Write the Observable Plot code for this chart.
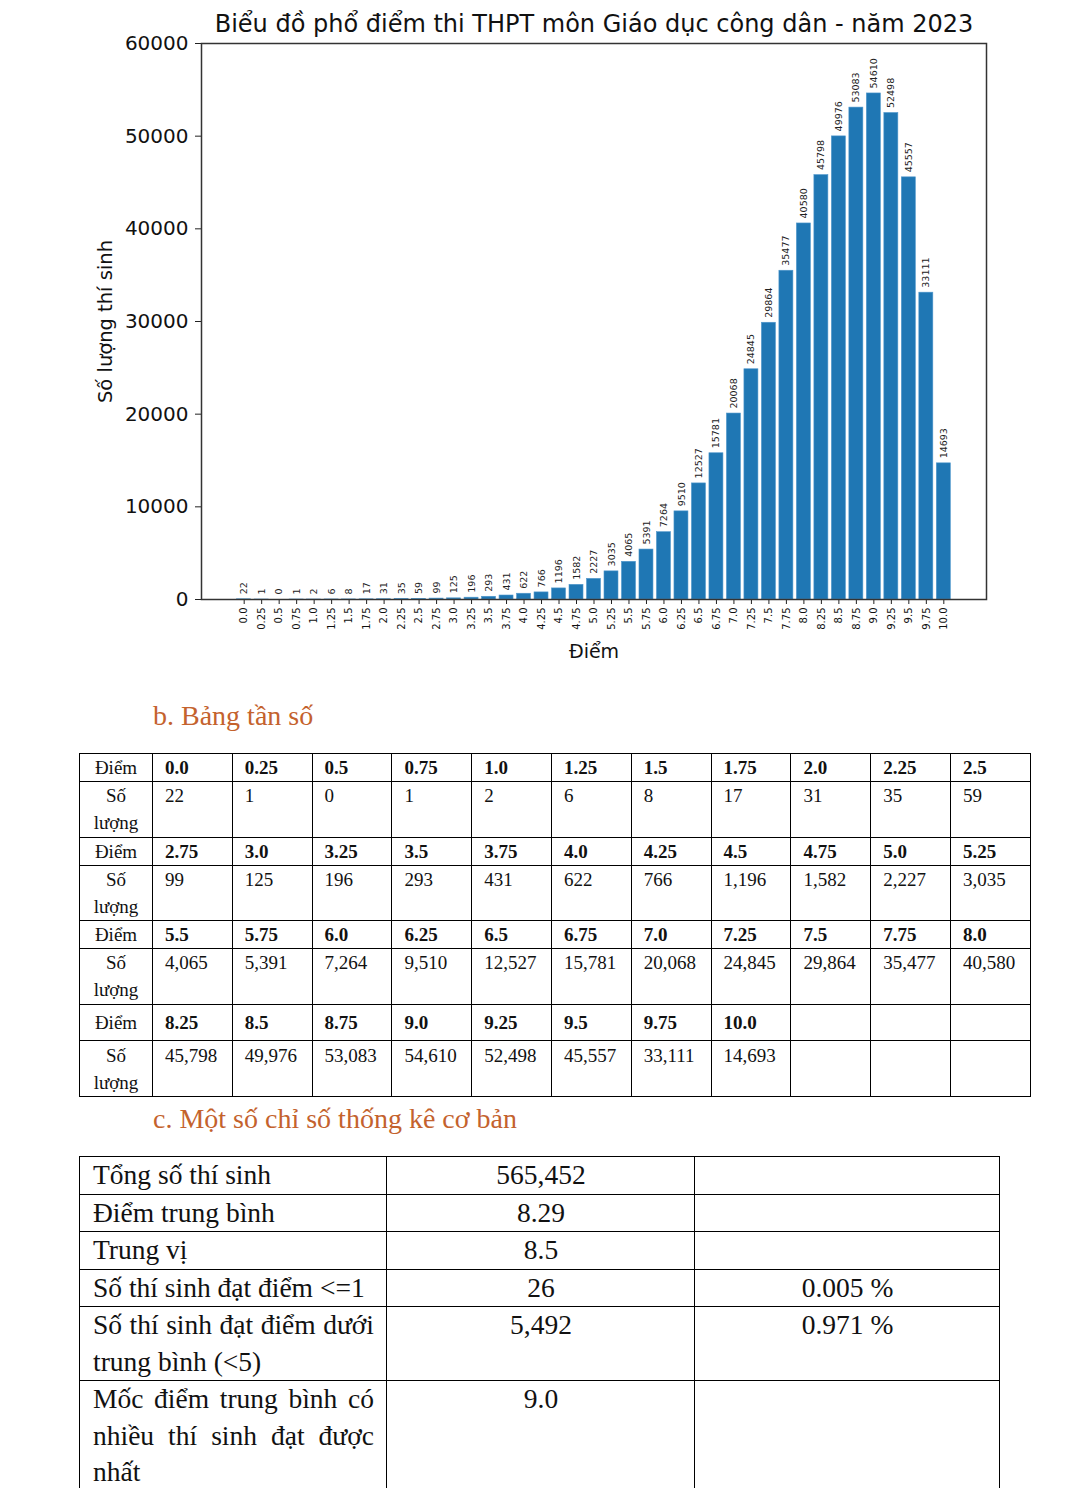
<!DOCTYPE html>
<html>
<head>
<meta charset="utf-8">
<script src="https://cdn.jsdelivr.net/npm/d3@7"></script>
<script src="https://cdn.jsdelivr.net/npm/@observablehq/plot@0.6"></script>
<style>
  html, body { margin: 0; padding: 0; background: #fff; width: 1080px; height: 1488px; overflow: hidden; }
  #chart { position: absolute; left: 0; top: 0; }
  .sec { position: absolute; font-family: "Liberation Serif", "Times New Roman", serif; color: #c4622d; font-size: 28px; }
  table { border-collapse: collapse; font-family: "Liberation Serif", "Times New Roman", serif; color: #111; position: absolute; table-layout: fixed; }
  td { border: 1px solid #000; vertical-align: top; padding: 0; }
  #t1 { left: 79px; top: 753px; width: 951px; font-size: 19px; line-height: 27px; }
  #t1 td { padding: 0 2px 0 12px; white-space: nowrap; }
  #t1 td.h { text-align: center; padding: 0 4px; white-space: normal; }
  #t1 tr.sc td:not(.h) { font-weight: bold; }
  #t2 { left: 79px; top: 1156px; width: 920px; font-size: 27.5px; line-height: 36.5px; }
  #t2 td { padding: 0 12px 0 13px; text-align: center; }
  #t2 td.l { text-align: justify; }
</style>
</head>
<body>
<div id="chart"></div>
<div class="sec" style="left:153px; top:700px;">b. Bảng tần số</div>
<table id="t1"></table>
<div class="sec" style="left:153px; top:1103px;">c. Một số chỉ số thống kê cơ bản</div>
<table id="t2"></table>
<script>
const scores = ["0.0","0.25","0.5","0.75","1.0","1.25","1.5","1.75","2.0","2.25","2.5","2.75","3.0","3.25","3.5","3.75","4.0","4.25","4.5","4.75","5.0","5.25","5.5","5.75","6.0","6.25","6.5","6.75","7.0","7.25","7.5","7.75","8.0","8.25","8.5","8.75","9.0","9.25","9.5","9.75","10.0"];
const counts = [22,1,0,1,2,6,8,17,31,35,59,99,125,196,293,431,622,766,1196,1582,2227,3035,4065,5391,7264,9510,12527,15781,20068,24845,29864,35477,40580,45798,49976,53083,54610,52498,45557,33111,14693];
const yTicks = [0,10000,20000,30000,40000,50000,60000];
const chartTitle = "Biểu đồ phổ điểm thi THPT môn Giáo dục công dân - năm 2023";
const xLabel = "Điểm";
const yLabel = "Số lượng thí sinh";

const statLabels = ["Tổng số thí sinh","Điểm trung bình","Trung vị","Số thí sinh đạt điểm <=1","Số thí sinh đạt điểm dưới trung bình (<5)","Mốc điểm trung bình có nhiều thí sinh đạt được nhất"];
const statValues = ["565,452","8.29","8.5","26","5,492","9.0"];
const statPercents = ["","","","0.005 %","0.971 %",""];

const data = scores.map((s, i) => ({score: s, count: counts[i]}));
const font = "DejaVu Sans, sans-serif";

const chart = Plot.plot({
  width: 1080,
  height: 670,
  marginLeft: 201,
  marginRight: 94,
  marginTop: 43,
  marginBottom: 71,
  style: {fontFamily: font, color: "#111", background: "white"},
  x: {type: "band", domain: scores, paddingInner: 0.2, paddingOuter: 2.04, align: 0.5, round: false},
  y: {domain: [0, 60000]},
  marks: [
    Plot.barY(data, {x: "score", y: "count", fill: "#1f77b4", stroke: "#4f97cc", strokeWidth: 0.6}),
    Plot.text(data, {x: "score", y: "count", text: d => String(d.count), rotate: -90, textAnchor: "start", dy: -5, fontSize: 9.5, fill: "#222"}),
    Plot.axisY({ticks: yTicks, tickFormat: d => String(d), fontSize: 20, tickSize: 6, tickPadding: 7, label: null, stroke: "#222"}),
    Plot.axisX({tickRotate: -90, fontSize: 10, tickSize: 5, tickPadding: 3, label: null, stroke: "#222"}),
    Plot.frame({stroke: "#333", strokeWidth: 1.5}),
    Plot.text([chartTitle], {frameAnchor: "top", lineAnchor: "bottom", dy: -12, fontSize: 24, fill: "#111"}),
    Plot.text([xLabel], {frameAnchor: "bottom", lineAnchor: "middle", dy: 52, fontSize: 19, fill: "#111"}),
    Plot.text([yLabel], {frameAnchor: "left", textAnchor: "middle", lineAnchor: "middle", dx: -96, rotate: -90, fontSize: 19.5, fill: "#111"})
  ]
});
document.getElementById("chart").appendChild(chart);

// Frequency table
const t1 = document.getElementById("t1");
const perRow = 11;
const rowHeights = [[26,56],[26,55],[26,56],[36,54]];
let cg = "<colgroup><col style='width:73px'>" + Array(perRow).fill("<col style='width:79.8px'>").join("") + "</colgroup>";
let html = cg;
for (let g = 0; g * perRow < scores.length; g++) {
  const ss = scores.slice(g*perRow, g*perRow+perRow);
  const cc = counts.slice(g*perRow, g*perRow+perRow);
  const [h1, h2] = rowHeights[g];
  html += `<tr class="sc" style="height:${h1}px"><td class="h">Điểm</td>` + Array.from({length: perRow}, (_, i) => `<td>${ss[i] ?? ""}</td>`).join("") + "</tr>";
  html += `<tr style="height:${h2}px"><td class="h">Số lượng</td>` + Array.from({length: perRow}, (_, i) => `<td>${cc[i] !== undefined ? d3.format(",")(cc[i]) : ""}</td>`).join("") + "</tr>";
}
t1.innerHTML = html;
const rows1 = t1.querySelectorAll("tr");
rows1[6].querySelectorAll("td").forEach(td => { td.style.verticalAlign = "middle"; });
rows1[7].querySelectorAll("td").forEach(td => { td.style.paddingTop = "1px"; });

// Stats table
const t2 = document.getElementById("t2");
const statHeights = [36,37,37,37,73,140];
let h2 = "<colgroup><col style='width:307px'><col style='width:308px'><col style='width:305px'></colgroup>";
statLabels.forEach((lab, i) => {
  h2 += `<tr style="height:${statHeights[i]}px"><td class="l">${lab.replace(/</g,"&lt;")}</td><td>${statValues[i]}</td><td>${statPercents[i]}</td></tr>`;
});
t2.innerHTML = h2;
</script>
</body>
</html>
